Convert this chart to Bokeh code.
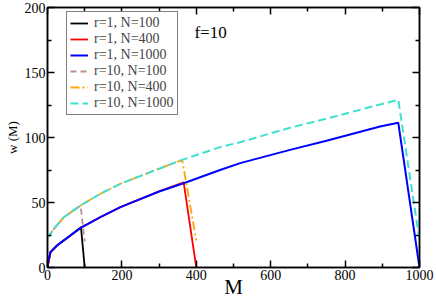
from bokeh.plotting import figure
from bokeh.models import Range1d, FixedTicker, LinearAxis, Label, Legend, LegendItem
from bokeh.embed import file_html
from bokeh.resources import INLINE

# ---- data ----
m_r1_n100 = [0, 8, 26, 53, 90, 100]
w_r1_n100 = [0, 11.8, 17, 22.8, 31, 0]

m_r1_n400 = [0, 8, 26, 53, 89, 142, 196, 300, 366, 400]
w_r1_n400 = [0, 11.8, 17, 22.8, 30.5, 38.7, 46.4, 58.5, 65.5, 0]

m_r1_n1000 = [0, 1, 8, 26, 53, 89, 120, 142, 196, 300, 366, 464, 518, 652, 750, 894, 943, 1000]
w_r1_n1000 = [0, 4, 11.8, 17, 22.8, 30.5, 35.3, 38.7, 46.4, 58.5, 64.8, 75, 80.3, 90.5, 97.5, 108.5, 111.3, 0]

m_r10_n100 = [0, 17, 44, 89, 100]
w_r10_n100 = [22.8, 29.7, 38.7, 47.7, 20]

m_r10_n400 = [0, 17, 44, 89, 142, 196, 300, 362, 400]
w_r10_n400 = [22.8, 29.7, 38.7, 47.7, 56.7, 64.4, 76, 82.8, 20.8]

m_r10_n1000 = [0, 17, 44, 89, 142, 196, 300, 362, 464, 518, 652, 750, 894, 943, 1000]
w_r10_n1000 = [22.8, 29.7, 38.7, 47.7, 56.7, 64.4, 76, 82.8, 92.6, 96.4, 107.5, 114.5, 125.4, 129, 21]

legend_labels = ["r=1, N=100", "r=1, N=400", "r=1, N=1000",
                 "r=10, N=100", "r=10, N=400", "r=10, N=1000"]

x_ticks = [0, 200, 400, 600, 800, 1000]
x_minor = [100, 300, 500, 700, 900]
y_ticks = [0, 50, 100, 150, 200]
y_minor = [25, 75, 125, 175]

FONT = "Liberation Serif"

p = figure(width=436, height=301, output_backend="svg", toolbar_location=None,
           x_range=Range1d(0, 1000), y_range=Range1d(0, 200),
           min_border_left=47, min_border_right=17, min_border_top=7, min_border_bottom=34)
p.grid.visible = False
p.outline_line_color = "black"
p.outline_line_width = 1.5
p.background_fill_color = "white"
p.border_fill_color = "white"

p.xaxis.axis_label = "M"
p.yaxis.axis_label = "w (M)"
for ax, t, mt in ((p.xaxis, x_ticks, x_minor), (p.yaxis, y_ticks, y_minor)):
    ax.ticker = FixedTicker(ticks=t, minor_ticks=mt)
    ax.major_tick_in = 7
    ax.major_tick_out = 0
    ax.minor_tick_in = 4
    ax.minor_tick_out = 0
    ax.axis_line_width = 1.5
    ax.major_tick_line_width = 1.5
    ax.minor_tick_line_width = 1.5
    ax.major_label_text_font = FONT
    ax.major_label_text_font_size = "14px"
    ax.major_label_text_color = "black"
    ax.major_label_standoff = 2
    ax.axis_label_text_font = FONT
    ax.axis_label_text_font_style = "normal"
    ax.axis_label_text_color = "black"
p.xaxis.axis_label_text_font_size = "21px"
p.xaxis.axis_label_standoff = -8
p.yaxis.axis_label_text_font_size = "13px"
p.yaxis.axis_label_standoff = 2

# mirrored ticks on top and right (tick marks only, no labels drawn)
for loc, t, mt in (("above", x_ticks, x_minor), ("right", y_ticks, y_minor)):
    ax = LinearAxis(ticker=FixedTicker(ticks=t, minor_ticks=mt))
    ax.major_tick_in = 7
    ax.major_tick_out = 0
    ax.minor_tick_in = 4
    ax.minor_tick_out = 0
    ax.axis_line_width = 1.5
    ax.major_tick_line_width = 1.5
    ax.minor_tick_line_width = 1.5
    ax.major_label_text_font_size = "1px"
    ax.major_label_text_color = None
    ax.major_label_standoff = 0
    p.add_layout(ax, loc)

r1 = p.line(m_r1_n100, w_r1_n100, line_color="black", line_width=1.8)
r2 = p.line(m_r1_n400, w_r1_n400, line_color="red", line_width=1.8)
r3 = p.line(m_r1_n1000, w_r1_n1000, line_color="blue", line_width=2)
r4 = p.line(m_r10_n100, w_r10_n100, line_color="#bc8f8f", line_width=1.8, line_dash="6 4")
r5 = p.line(m_r10_n400, w_r10_n400, line_color="orange", line_width=1.8, line_dash="9 3 2 3")
r6 = p.line(m_r10_n1000, w_r10_n1000, line_color="turquoise", line_width=2, line_dash="8 4")

legend = Legend(items=[LegendItem(label=l, renderers=[r]) for l, r in
                       zip(legend_labels, [r1, r2, r3, r4, r5, r6])],
                location=(19, 152))
legend.label_text_font = FONT
legend.label_text_font_size = "14px"
legend.label_height = 16
legend.glyph_height = 16
legend.glyph_width = 18
legend.spacing = 0
legend.padding = 3
legend.margin = 0
legend.label_standoff = 6
legend.border_line_color = "black"
legend.border_line_width = 1.5
legend.background_fill_alpha = 1
p.add_layout(legend)

# panel annotation
p.add_layout(Label(x=395, y=181, text="f=10", text_font=FONT, text_font_size="17px",
                   text_color="black", text_baseline="alphabetic"))

open("out.html", "w").write(file_html(p, INLINE))
